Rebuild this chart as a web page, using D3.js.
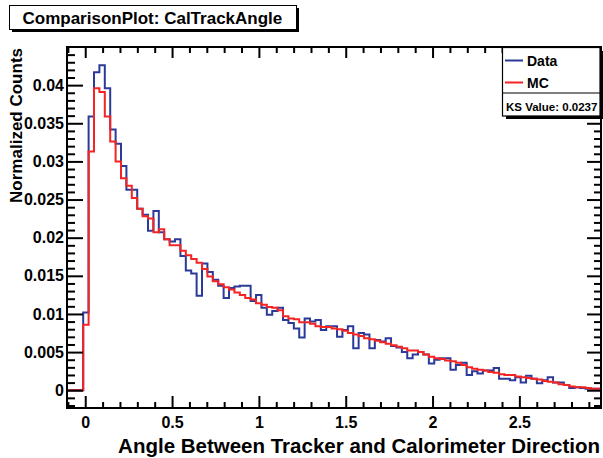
<!DOCTYPE html>
<html>
<head>
<meta charset="utf-8">
<script src="https://cdn.jsdelivr.net/npm/d3@7"></script>
<style>
  body { margin: 0; background: #fff; }
  text { font-family: "Liberation Sans", Arial, Helvetica, sans-serif; font-weight: bold; fill: #000; }
</style>
</head>
<body>
<svg id="chart"></svg>
<script>
// histogram binning (99 bins, lower edge of the first bin)
var binStart = -0.105,
    binWidth = 0.0311;

// normalized counts per bin
var dataCounts = [
  0, 0, 0, 0.0102, 0.0359, 0.0417, 0.0426, 0.0396, 0.0342, 0.0323,
  0.0294, 0.0263, 0.0263, 0.0238, 0.0230, 0.0209, 0.0235, 0.0207, 0.0198, 0.0195,
  0.0198, 0.0176, 0.0157, 0.0153, 0.0124, 0.0166, 0.0155, 0.0145, 0.0137, 0.0121,
  0.0134, 0.0136, 0.0137, 0.0137, 0.0117, 0.0125, 0.0108, 0.0099, 0.0104, 0.0108,
  0.0092, 0.0088, 0.0081, 0.0069, 0.0094, 0.0090, 0.0092, 0.0079, 0.0084, 0.0084,
  0.0070, 0.0079, 0.0084, 0.0055, 0.0075, 0.0073, 0.0055, 0.0066, 0.0064, 0.0068,
  0.0058, 0.0056, 0.0050, 0.0042, 0.0047, 0.0050, 0.0047, 0.0035, 0.0040, 0.0042,
  0.0042, 0.0027, 0.0033, 0.0036, 0.0020, 0.0025, 0.0022, 0.0026, 0.0026, 0.0029,
  0.0015, 0.0015, 0.0013, 0.0017, 0.0010, 0.0019, 0.0015, 0.0009, 0.0013, 0.0017,
  0.0010, 0.0010, 0.0007, 0.0003, 0.0004, 0.0003, 0.0002, 0.0002, 0.0002
];

var mcCounts = [
  0, 0, 0, 0.0086, 0.0313, 0.0396, 0.0391, 0.0359, 0.0326, 0.0300,
  0.0278, 0.0268, 0.0252, 0.0238, 0.0228, 0.0225, 0.0207, 0.0211, 0.0198, 0.0190,
  0.0190, 0.0183, 0.0177, 0.0172, 0.0167, 0.0159, 0.0149, 0.0143, 0.0139, 0.0135,
  0.0132, 0.0128, 0.0125, 0.0121, 0.0119, 0.0114, 0.0112, 0.0109, 0.0108, 0.0105,
  0.0097, 0.0094, 0.0093, 0.0089, 0.0089, 0.0087, 0.0084, 0.0083, 0.0083, 0.0081,
  0.0080, 0.0078, 0.0075, 0.0073, 0.0071, 0.0068, 0.0067, 0.0065, 0.0063, 0.0061,
  0.0059, 0.0057, 0.0055, 0.0052, 0.0052, 0.0050, 0.0047, 0.0044, 0.0042, 0.0041,
  0.0039, 0.0038, 0.0036, 0.0033, 0.0030, 0.0028, 0.0027, 0.0026, 0.0024, 0.0023,
  0.0021, 0.0020, 0.0020, 0.0018, 0.0017, 0.0016, 0.0015, 0.0014, 0.0012, 0.0011,
  0.0010, 0.0008, 0.0007, 0.0005, 0.0004, 0.0004, 0.0003, 0.0002, 0.0002
];

var xMajorTicks = [0, 0.5, 1, 1.5, 2, 2.5],
    xMajorLabels = ["0", "0.5", "1", "1.5", "2", "2.5"],
    xMinorTicks = [-0.1, 0.1, 0.2, 0.3, 0.4, 0.6, 0.7, 0.8, 0.9, 1.1, 1.2, 1.3, 1.4,
                   1.6, 1.7, 1.8, 1.9, 2.1, 2.2, 2.3, 2.4, 2.6, 2.7, 2.8, 2.9];
var yMajorTicks = [0, 0.005, 0.01, 0.015, 0.02, 0.025, 0.03, 0.035, 0.04],
    yMajorLabels = ["0", "0.005", "0.01", "0.015", "0.02", "0.025", "0.03", "0.035", "0.04"],
    yMinorTicks = [-0.002, -0.001, 0.001, 0.002, 0.003, 0.004, 0.006, 0.007, 0.008, 0.009,
                   0.011, 0.012, 0.013, 0.014, 0.016, 0.017, 0.018, 0.019,
                   0.021, 0.022, 0.023, 0.024, 0.026, 0.027, 0.028, 0.029,
                   0.031, 0.032, 0.033, 0.034, 0.036, 0.037, 0.038, 0.039,
                   0.041, 0.042, 0.043, 0.044];

var svgWidth = 603,
    svgHeight = 458,
    frame = { left: 67, right: 601, top: 47, bottom: 408 },
    dataColor = "#2b3a98",
    mcColor = "#f42424";

var svg = d3.select("#chart")
    .attr("width", svgWidth)
    .attr("height", svgHeight);

var x = d3.scaleLinear().domain([-0.105, 2.97]).range([frame.left, frame.right]);
var y = d3.scaleLinear().domain([-0.00233, 0.045]).range([frame.bottom, frame.top]);

svg.append("defs").append("clipPath").attr("id", "frameClip")
  .append("rect")
    .attr("x", frame.left)
    .attr("y", frame.top)
    .attr("width", frame.right - frame.left)
    .attr("height", frame.bottom - frame.top);

// step outline of a histogram
function histPoints(values) {
    var pts = values.map(function (v, i) { return [binStart + i * binWidth, v]; });
    pts.push([binStart + values.length * binWidth, values[values.length - 1]]);
    return pts;
}

var stepLine = d3.line()
    .x(function (d) { return x(d[0]); })
    .y(function (d) { return y(d[1]); })
    .curve(d3.curveStepAfter);

var plot = svg.append("g").attr("clip-path", "url(#frameClip)");

plot.append("path")
    .attr("d", stepLine(histPoints(dataCounts)))
    .attr("fill", "none")
    .attr("stroke", dataColor)
    .attr("stroke-width", 2);

plot.append("path")
    .attr("d", stepLine(histPoints(mcCounts)))
    .attr("fill", "none")
    .attr("stroke", mcColor)
    .attr("stroke-width", 2);

// axes, ROOT style: ticks pointing inward on all four sides
function styleAxis(g) {
    g.select(".domain").remove();
    g.selectAll("line").attr("stroke", "#000").attr("stroke-width", 2);
    g.selectAll("text")
        .style("font-size", "16px")
        .style("font-family", "'Liberation Sans', Arial, sans-serif")
        .style("font-weight", "bold");
}

svg.append("g")
    .attr("transform", "translate(0," + frame.bottom + ")")
    .call(d3.axisBottom(x).tickValues(xMajorTicks)
        .tickFormat(function (d, i) { return xMajorLabels[i]; })
        .tickSizeInner(-12).tickSizeOuter(0).tickPadding(9))
    .call(styleAxis);

svg.append("g")
    .attr("transform", "translate(0," + frame.bottom + ")")
    .call(d3.axisBottom(x).tickValues(xMinorTicks).tickFormat("")
        .tickSizeInner(-6).tickSizeOuter(0))
    .call(styleAxis);

svg.append("g")
    .attr("transform", "translate(0," + frame.top + ")")
    .call(d3.axisTop(x).tickValues(xMajorTicks).tickFormat("")
        .tickSizeInner(-11).tickSizeOuter(0))
    .call(styleAxis);

svg.append("g")
    .attr("transform", "translate(0," + frame.top + ")")
    .call(d3.axisTop(x).tickValues(xMinorTicks).tickFormat("")
        .tickSizeInner(-6).tickSizeOuter(0))
    .call(styleAxis);

svg.append("g")
    .attr("transform", "translate(" + frame.left + ",0)")
    .call(d3.axisLeft(y).tickValues(yMajorTicks)
        .tickFormat(function (d, i) { return yMajorLabels[i]; })
        .tickSizeInner(-16).tickSizeOuter(0).tickPadding(3))
    .call(styleAxis);

svg.append("g")
    .attr("transform", "translate(" + frame.left + ",0)")
    .call(d3.axisLeft(y).tickValues(yMinorTicks).tickFormat("")
        .tickSizeInner(-8).tickSizeOuter(0))
    .call(styleAxis);

svg.append("g")
    .attr("transform", "translate(" + frame.right + ",0)")
    .call(d3.axisRight(y).tickValues(yMajorTicks).tickFormat("")
        .tickSizeInner(-14).tickSizeOuter(0))
    .call(styleAxis);

svg.append("g")
    .attr("transform", "translate(" + frame.right + ",0)")
    .call(d3.axisRight(y).tickValues(yMinorTicks).tickFormat("")
        .tickSizeInner(-7).tickSizeOuter(0))
    .call(styleAxis);

// frame
svg.append("rect")
    .attr("x", frame.left)
    .attr("y", frame.top)
    .attr("width", frame.right - frame.left)
    .attr("height", frame.bottom - frame.top)
    .attr("fill", "none")
    .attr("stroke", "#000")
    .attr("stroke-width", 2);

// axis titles
svg.append("text")
    .attr("x", 600)
    .attr("y", 453)
    .attr("text-anchor", "end")
    .style("font-size", "20.5px")
    .text("Angle Between Tracker and Calorimeter Direction");

svg.append("text")
    .attr("transform", "translate(22,48) rotate(-90)")
    .attr("text-anchor", "end")
    .style("font-size", "17px")
    .text("Normalized Counts");

// title box with shadow
svg.append("rect").attr("x", 12).attr("y", 8).attr("width", 287).attr("height", 24).attr("fill", "#000");
svg.append("rect").attr("x", 9.5).attr("y", 5.5).attr("width", 287).attr("height", 24)
    .attr("fill", "#fff").attr("stroke", "#000").attr("stroke-width", 1);
svg.append("text")
    .attr("x", 22.5)
    .attr("y", 24)
    .style("font-size", "17px")
    .text("ComparisonPlot: CalTrackAngle");

// legend with shadow
var legend = svg.append("g");
legend.append("rect").attr("x", 506).attr("y", 51).attr("width", 97).attr("height", 68).attr("fill", "#000");
legend.append("rect").attr("x", 502.5).attr("y", 47.5).attr("width", 97.5).attr("height", 68.5)
    .attr("fill", "#fff").attr("stroke", "#000").attr("stroke-width", 1.2);
legend.append("line").attr("x1", 502.5).attr("x2", 600).attr("y1", 93).attr("y2", 93)
    .attr("stroke", "#000").attr("stroke-width", 1.2);

var legendItems = [
    { label: "Data", color: dataColor, y: 60.5 },
    { label: "MC", color: mcColor, y: 82.5 }
];
legendItems.forEach(function (d) {
    legend.append("line")
        .attr("x1", 505).attr("x2", 523)
        .attr("y1", d.y).attr("y2", d.y)
        .attr("stroke", d.color).attr("stroke-width", 2);
    legend.append("text")
        .attr("x", 527)
        .attr("y", d.y + 5)
        .style("font-size", "14px")
        .text(d.label);
});

legend.append("text")
    .attr("x", 506)
    .attr("y", 110.5)
    .style("font-size", "11.5px")
    .text("KS Value: 0.0237");
</script>
</body>
</html>
